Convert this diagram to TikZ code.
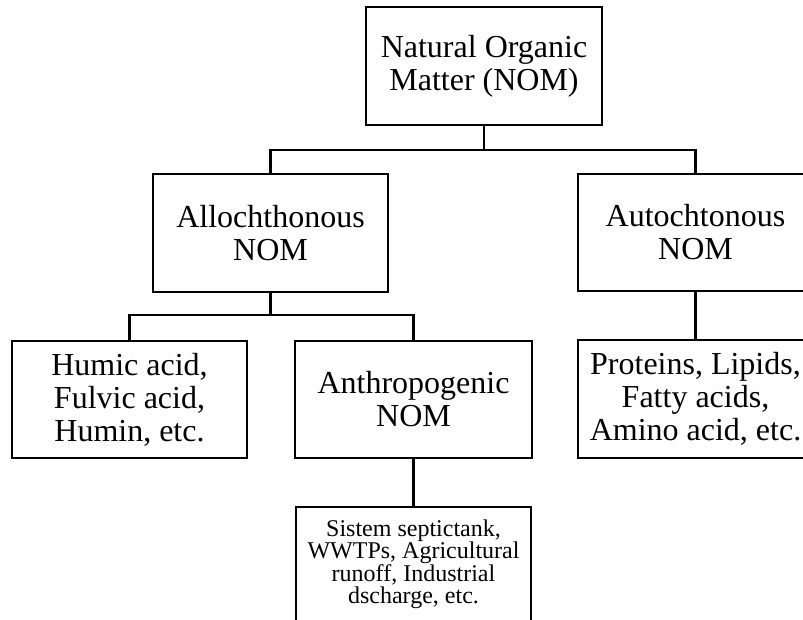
\documentclass[tikz,border=0pt]{standalone}
\usepackage{fontspec}
\setmainfont{Liberation Serif}
\begin{document}
\begin{tikzpicture}[x=1pt,y=-1pt,
  box/.style={draw,line width=2.8pt,minimum width=235pt,minimum height=117pt,inner sep=0pt,align=center,font=\fontsize{32}{33}\selectfont},
  smallbox/.style={box,font=\fontsize{24}{22.5}\selectfont},
  conn/.style={line width=2.8pt}]
\useasboundingbox (0,0) rectangle (803,620);
\clip (0,0) rectangle (803,620);
\node[box,minimum width=236pt,minimum height=118pt] (top) at (484,66) {Natural Organic\\Matter (NOM)};
\node[box,minimum height=118pt] (allo) at (270.5,233) {Allochthonous\\NOM};
\node[box] (auto) at (695.5,232.5) {Autochtonous\\NOM};
\node[box] (humic) at (129.5,399.5) {Humic acid,\\Fulvic acid,\\Humin, etc.};
\node[box,minimum width=237pt] (anthro) at (413.5,399.5) {Anthropogenic\\NOM};
\node[box,minimum height=118pt] (prot) at (695.5,399) {Proteins, Lipids,\\Fatty acids,\\Amino acid, etc.};
\node[smallbox,minimum height=115pt] (sept) at (413.5,564.5) {Sistem septictank,\\WWTPs, Agricultural\\runoff, Industrial\\dscharge, etc.};
\coordinate (j1) at (484,150);
\coordinate (j2) at (270.5,315);
\draw[conn] (top.south) -- (j1);
\draw[conn] (allo.north) |- (j1) -| (auto.north);
\draw[conn] (allo.south) -- (j2);
\draw[conn] (humic.north) |- (j2) -| (anthro.north);
\draw[conn] (auto.south) -- (prot.north);
\draw[conn] (anthro.south) -- (sept.north);
\end{tikzpicture}
\end{document}
